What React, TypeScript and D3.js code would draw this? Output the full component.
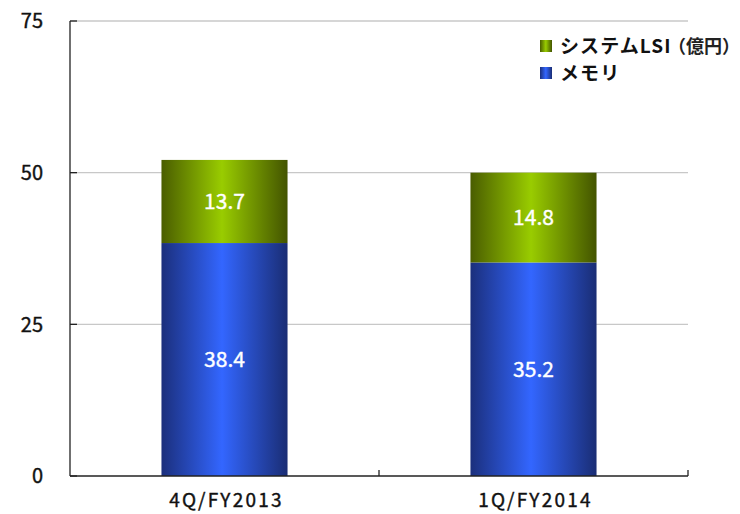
import React from 'react'
import * as d3 from 'd3'

const categories = ['4Q/FY2013', '1Q/FY2014']
const memory = [38.4, 35.2]
const systemLsi = [13.7, 14.8]
const yTicks = [0, 25, 50, 75]

const W = 740
const H = 514
const M = { left: 70, right: 688, top: 21, bottom: 476 }
const FONT = '"Noto Sans CJK JP", "Noto Sans", sans-serif'

const SERIES = [
  { key: 'memory', name: 'メモリ', values: memory, grad: 'g-blue', stops: ['#1b2f7c', '#3366ff', '#1a2d74'] },
  { key: 'lsi', name: 'システムLSI', values: systemLsi, grad: 'g-green', stops: ['#4a5d00', '#99cc00', '#435400'] },
]

export default function App() {
  const x = d3.scaleBand<string>().domain(categories).range([M.left, M.right]).padding(0)
  const y = d3.scaleLinear().domain([0, 75]).range([M.bottom, M.top])
  const barW = x.bandwidth() * 0.408

  const rows = categories.map((c, i) => ({ cat: c, memory: memory[i], lsi: systemLsi[i] }))
  const stacked = d3.stack<any>().keys(SERIES.map(s => s.key))(rows)

  return (
    <div style={{ position: 'absolute', left: 0, top: 0 }}>
      <svg width={W} height={H} style={{ display: 'block', background: '#fff' }} fontFamily={FONT}>
        <defs>
          {SERIES.map(s => (
            <linearGradient key={s.grad} id={s.grad} x1="0" x2="1" y1="0" y2="0">
              <stop offset="0" stopColor={s.stops[0]} />
              <stop offset="0.48" stopColor={s.stops[1]} />
              <stop offset="1" stopColor={s.stops[2]} />
            </linearGradient>
          ))}
        </defs>

        {/* gridlines */}
        {yTicks.filter(t => t > 0).map(t => (
          <line key={t} x1={M.left} x2={M.right} y1={y(t)} y2={y(t)} stroke="#c8c8c8" strokeWidth={1.3} />
        ))}

        {/* bars */}
        {stacked.map((layer, li) => layer.map((d, i) => {
          const cx = x(categories[i])! + x.bandwidth() / 2
          const y0 = y(d[0]), y1 = y(d[1])
          return (
            <g key={SERIES[li].key + i}>
              <rect x={cx - barW / 2} y={y1} width={barW} height={y0 - y1} fill={`url(#${SERIES[li].grad})`} />
              <text x={cx} y={(y0 + y1) / 2} dy="0.36em" textAnchor="middle" fill="#fff" fontSize={21}
                stroke="#fff" strokeWidth={0.4}>
                {SERIES[li].values[i].toFixed(1)}
              </text>
            </g>
          )
        }))}

        {/* y axis */}
        <line x1={M.left} x2={M.left} y1={y(75)} y2={M.bottom} stroke="#222" strokeWidth={1.3} />
        {yTicks.map(t => (
          <g key={t}>
            <line x1={M.left} x2={M.left + 7} y1={y(t)} y2={y(t)} stroke="#222" strokeWidth={1.3} />
            <text x={43} y={y(t)} dy="0.36em" textAnchor="end" fontSize={20} fill="#111"
              stroke="#111" strokeWidth={0.4}>{t}</text>
          </g>
        ))}

        {/* x axis */}
        <line x1={M.left} x2={M.right} y1={M.bottom} y2={M.bottom} stroke="#222" strokeWidth={1.3} />
        {[x(categories[1])!, M.right].map((px, i) => (
          <line key={i} x1={px} x2={px} y1={M.bottom} y2={M.bottom - 6} stroke="#222" strokeWidth={1.3} />
        ))}
        {categories.map(c => (
          <text key={c} x={x(c)! + x.bandwidth() / 2 + 2} y={507} textAnchor="middle" fontSize={19}
            letterSpacing={2.2} fill="#111" stroke="#111" strokeWidth={0.4}>{c}</text>
        ))}

        {/* legend */}
        {[SERIES[1], SERIES[0]].map((s, i) => (
          <g key={s.key} transform={`translate(540,${40 + i * 27})`}>
            <rect width={12} height={12} fill={`url(#${s.grad})`} />
            <text x={20} y={6} dy="0.38em" fontSize={19} fontWeight="bold" letterSpacing={1.1} fill="#111">{s.name}</text>
          </g>
        ))}
        <text x={668} y={46} dy="0.38em" fontSize={18} fontWeight="bold" fill="#222">（億円）</text>
      </svg>
    </div>
  )
}
